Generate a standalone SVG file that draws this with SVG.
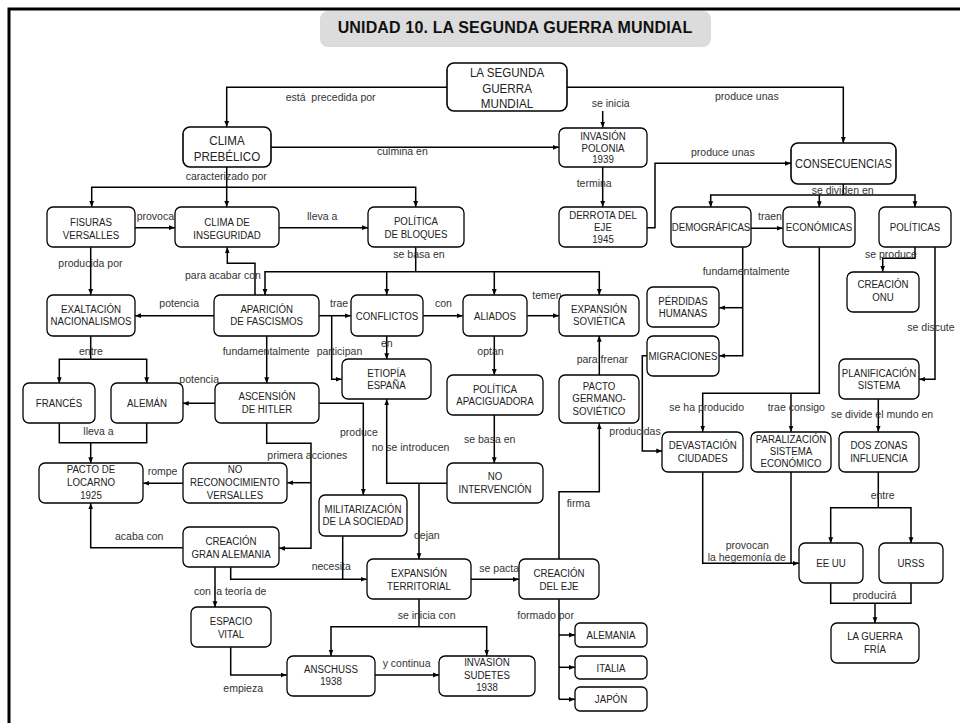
<svg xmlns="http://www.w3.org/2000/svg" width="960" height="723" viewBox="0 0 960 723">
<style>
.bg{fill:#fff}
.n rect{fill:#fff;stroke:#000;stroke-width:1.3}
.n text{font-family:"Liberation Sans",Arial,sans-serif;font-size:11.3px;fill:#222;text-anchor:middle;transform-box:fill-box;transform-origin:center;transform:scaleX(0.86)}
.big text{font-size:12.5px;transform:scaleX(0.93)}
.c path{fill:none;stroke:#000;stroke-width:1.5}
.c path.a{marker-end:url(#ah)}
.l text{font-family:"Liberation Sans",Arial,sans-serif;font-size:10.5px;fill:#333}
.title{font-family:"Liberation Sans",Arial,sans-serif;font-size:16px;font-weight:bold;fill:#111;text-anchor:middle;letter-spacing:0.15px}
</style>
<defs>
<marker id="ah" viewBox="0 0 10 10" refX="10" refY="5" markerWidth="6" markerHeight="6" markerUnits="userSpaceOnUse" orient="auto"><path d="M0,1 L10,5 L0,9z" fill="#000"/></marker>
</defs>
<rect class="bg" x="0" y="0" width="960" height="723"/>
<path d="M9,723 V9 H960" fill="none" stroke="#000" stroke-width="3"/>
<g id="title">
<rect x="320" y="11" width="391" height="36" rx="8" fill="#dcdcdc"/>
<text class="title" x="515" y="33.3">UNIDAD 10. LA SEGUNDA GUERRA MUNDIAL</text>
</g>

<g class="c" id="connectors">
<path class="a" d="M447,87.3 H226.7 V127"/>
<path class="a" d="M567,87.3 H843.3 V143"/>
<path class="a" d="M602.7,111 V127.7"/>
<path class="a" d="M271,147.3 H559"/>
<path class="a" d="M602.7,167 V207"/>
<path class="a" d="M647,227.7 H655 V163.3 H791"/>
<path class="a" d="M226.7,167 V207"/>
<path class="a" d="M226.7,187.3 H91.7 V207"/>
<path class="a" d="M226.7,187.3 H415.7 V207"/>
<path class="a" d="M135,227.7 H175"/>
<path class="a" d="M279,227.7 H368"/>
<path class="a" d="M90.7,247.3 V295"/>
<path d="M415.7,247.3 V271.7"/>
<path class="a" d="M415.7,271.7 H265 V295"/>
<path class="a" d="M415.7,271.7 H599.3 V295"/>
<path class="a" d="M386.7,271.7 V295"/>
<path class="a" d="M494.3,271.7 V295"/>
<path class="a" d="M255,295 V263.3 H227.3 V247.3"/>
<path class="a" d="M214.3,315.7 H135"/>
<path class="a" d="M319.3,315.7 H350.7"/>
<path class="a" d="M331.7,315.7 V379.3 H341.7"/>
<path class="a" d="M386.7,335.7 V359.3"/>
<path class="a" d="M423.3,315.7 H462.7"/>
<path class="a" d="M527.3,315.7 H559"/>
<path class="a" d="M494.3,335.7 V375"/>
<path class="a" d="M494.3,415 V463.3"/>
<path class="a" d="M446.7,483.3 H386.7 V399.3"/>
<path class="a" d="M419,483.3 V559.3"/>
<path class="a" d="M599.3,375 V335.7"/>
<path class="a" d="M559,559.3 V491.7 H599.3 V423.3"/>
<path d="M90.7,335.7 V359.3"/>
<path class="a" d="M90.7,359.3 H59.3 V383.3"/>
<path class="a" d="M90.7,359.3 H146.7 V383.3"/>
<path class="a" d="M266.7,335.7 V383.3"/>
<path class="a" d="M215,403.3 H182.7"/>
<path d="M59.3,423.3 V442.7 H146.7 V423.3"/>
<path class="a" d="M90.7,442.7 V463.3"/>
<path class="a" d="M266.7,423.3 V443.3 H311 V548.3 H279"/>
<path class="a" d="M311,482.7 H287.3"/>
<path class="a" d="M319.3,403.3 H363.3 V495"/>
<path class="a" d="M182.7,483.3 H143.3"/>
<path class="a" d="M182.7,547.7 H90.7 V503.3"/>
<path class="a" d="M230.7,567.3 V579.3 H366.7"/>
<path d="M342.7,535.7 V579.3"/>
<path class="a" d="M215,567.3 V607.3"/>
<path class="a" d="M230.7,647.3 V675 H286.7"/>
<path d="M419,599.3 V626.7"/>
<path class="a" d="M419,626.7 H331 V655.7"/>
<path class="a" d="M419,626.7 H486.7 V655.7"/>
<path class="a" d="M375,675 H439"/>
<path class="a" d="M471,579.3 H519"/>
<path d="M559,599.3 V699.3"/>
<path class="a" d="M559,635 H575"/>
<path class="a" d="M559,667.3 H575"/>
<path class="a" d="M559,699.3 H575"/>
<path d="M843.3,184 V195"/>
<path class="a" d="M843.3,195 H710.7 V207.3"/>
<path class="a" d="M843.3,195 H915 V207.3"/>
<path class="a" d="M819.3,195 V207.3"/>
<path class="a" d="M750.7,228.3 H782.7"/>
<path class="a" d="M742.7,247.3 V355.7 H719.3"/>
<path class="a" d="M742.7,307.7 H719.3"/>
<path class="a" d="M646.7,355.7 H642.3 V451 H662.3"/>
<path class="a" d="M819.3,247.3 V393.3 H702.7 V431.7"/>
<path class="a" d="M791,393.3 V431.7"/>
<path class="a" d="M915,247.3 V258.3 H882.7 V271.7"/>
<path class="a" d="M935,247.3 V379.3 H919.3"/>
<path class="a" d="M878.3,399.3 V431.7"/>
<path d="M878.3,471.7 V507.7"/>
<path class="a" d="M878.3,507.7 H830.7 V543.3"/>
<path class="a" d="M878.3,507.7 H911 V543.3"/>
<path class="a" d="M702.7,471.7 V563.3 H799"/>
<path d="M791,471.7 V563.3"/>
<path d="M830.7,583.3 V603.3 H911 V583.3"/>
<path class="a" d="M875,603.3 V623.3"/>
</g>

<g class="l" id="labels">
<text x="285.7" y="100.7" xml:space="preserve">está  precedida por</text>
<text x="591.7" y="107.3">se inicia</text>
<text x="715" y="100">produce unas</text>
<text x="377" y="155">culmina en</text>
<text x="691" y="156">produce unas</text>
<text x="185.7" y="180">caracterizado por</text>
<text x="576.7" y="187.3">termina</text>
<text x="811.7" y="194">se dividen en</text>
<text x="136.7" y="220">provoca</text>
<text x="307" y="220">lleva a</text>
<text x="758" y="220">traen</text>
<text x="393.3" y="258.3">se basa en</text>
<text x="865" y="258">se produce</text>
<text x="58.3" y="266.7">producida por</text>
<text x="185" y="279">para acabar con</text>
<text x="702.7" y="275">fundamentalmente</text>
<text x="532.3" y="299.3">temen</text>
<text x="159.3" y="306.7">potencia</text>
<text x="330" y="306.7">trae</text>
<text x="435" y="306.7">con</text>
<text x="907.3" y="330.7">se discute</text>
<text x="381" y="347.3">en</text>
<text x="79" y="355">entre</text>
<text x="222.7" y="355">fundamentalmente</text>
<text x="316.7" y="355">participan</text>
<text x="477.3" y="355">optan</text>
<text x="576.7" y="362.7">para frenar</text>
<text x="179.3" y="382.7">potencia</text>
<text x="669.3" y="411">se ha producido</text>
<text x="767.7" y="411">trae consigo</text>
<text x="831" y="418.3">se divide el mundo en</text>
<text x="83.3" y="435">lleva a</text>
<text x="340" y="435.7">produce</text>
<text x="609.3" y="435">producidas</text>
<text x="464" y="442.7">se basa en</text>
<text x="371.7" y="450.7">no se introducen</text>
<text x="267.3" y="459">primera acciones</text>
<text x="147.7" y="475">rompe</text>
<text x="870.7" y="499.3">entre</text>
<text x="566.7" y="506.7">firma</text>
<text x="414" y="539.3">dejan</text>
<text x="115" y="540">acaba con</text>
<text x="725.7" y="549.3">provocan</text>
<text x="707.7" y="561">la hegemonía de</text>
<text x="311.7" y="570">necesita</text>
<text x="479.3" y="571.7">se pacta</text>
<text x="194" y="595">con la teoría de</text>
<text x="852.7" y="599.3">producirá</text>
<text x="397.7" y="619.3">se inicia con</text>
<text x="517.3" y="619.3">formado por</text>
<text x="382.7" y="666.7">y continua</text>
<text x="223.3" y="691.7">empieza</text>
</g>

<g class="n big" id="segunda"><rect x="447" y="63" width="120" height="48" rx="7" style="stroke-width:1.6"/><text x="507" y="77">LA SEGUNDA</text><text x="507" y="93">GUERRA</text><text x="507" y="108.5">MUNDIAL</text></g>
<g class="n big" id="clima"><rect x="183" y="127" width="88" height="40" rx="7" style="stroke-width:1.6"/><text x="227" y="145">CLIMA</text><text x="227" y="160.7">PREBÉLICO</text></g>
<g class="n" id="invasion_polonia"><rect x="559" y="128" width="88" height="39" rx="6"/><text x="603" y="140">INVASIÓN</text><text x="603" y="151.7">POLONIA</text><text x="603" y="163.3">1939</text></g>
<g class="n big" id="consecuencias"><rect x="791" y="143" width="105" height="41" rx="7" style="stroke-width:1.6"/><text x="843.5" y="168" style="transform:scaleX(0.89)">CONSECUENCIAS</text></g>
<g class="n" id="fisuras"><rect x="47" y="207" width="88" height="40" rx="6"/><text x="91" y="226.5">FISURAS</text><text x="91" y="238.7">VERSALLES</text></g>
<g class="n" id="clima_inseguridad"><rect x="175" y="207" width="104" height="40" rx="6"/><text x="227" y="226.5">CLIMA DE</text><text x="227" y="238.7">INSEGURIDAD</text></g>
<g class="n" id="politica_bloques"><rect x="368" y="207" width="96" height="40" rx="6"/><text x="416" y="225.5">POLÍTICA</text><text x="416" y="237.7">DE BLOQUES</text></g>
<g class="n" id="derrota"><rect x="559" y="207" width="88" height="40" rx="6"/><text x="603" y="219">DERROTA DEL</text><text x="603" y="231">EJE</text><text x="603" y="243">1945</text></g>
<g class="n" id="demograficas"><rect x="671" y="207" width="80" height="40" rx="6"/><text x="711" y="231">DEMOGRÁFICAS</text></g>
<g class="n" id="economicas"><rect x="783" y="207" width="72" height="40" rx="6"/><text x="819" y="231">ECONÓMICAS</text></g>
<g class="n" id="politicas"><rect x="879" y="207" width="72" height="40" rx="6"/><text x="915" y="231">POLÍTICAS</text></g>
<g class="n" id="exaltacion"><rect x="47" y="295" width="88" height="41" rx="6"/><text x="91" y="312.7">EXALTACIÓN</text><text x="91" y="325">NACIONALISMOS</text></g>
<g class="n" id="aparicion"><rect x="214" y="295" width="105" height="41" rx="6"/><text x="266.7" y="312.7">APARICIÓN</text><text x="266.7" y="325">DE FASCISMOS</text></g>
<g class="n" id="conflictos"><rect x="351" y="295" width="72" height="41" rx="6"/><text x="387" y="320">CONFLICTOS</text></g>
<g class="n" id="aliados"><rect x="463" y="295" width="64" height="41" rx="6"/><text x="495" y="320">ALIADOS</text></g>
<g class="n" id="expansion_sovietica"><rect x="559" y="295" width="80" height="41" rx="6"/><text x="599" y="312.7">EXPANSIÓN</text><text x="599" y="325">SOVIÉTICA</text></g>
<g class="n" id="perdidas"><rect x="647" y="287" width="72" height="40" rx="6"/><text x="683" y="305">PÉRDIDAS</text><text x="683" y="317.3">HUMANAS</text></g>
<g class="n" id="onu"><rect x="847" y="272" width="72" height="40" rx="6"/><text x="883" y="288.3">CREACIÓN</text><text x="883" y="301">ONU</text></g>
<g class="n" id="migraciones"><rect x="647" y="336" width="72" height="40" rx="6"/><text x="683" y="360">MIGRACIONES</text></g>
<g class="n" id="etiopia"><rect x="342" y="359" width="89" height="40" rx="6"/><text x="386.5" y="376.7">ETIOPÍA</text><text x="386.5" y="389.3">ESPAÑA</text></g>
<g class="n" id="planificacion"><rect x="839" y="359" width="80" height="40" rx="6"/><text x="879" y="376.7">PLANIFICACIÓN</text><text x="879" y="389.3">SISTEMA</text></g>
<g class="n" id="frances"><rect x="23" y="383" width="72" height="40" rx="6"/><text x="59" y="406.7">FRANCÉS</text></g>
<g class="n" id="aleman"><rect x="111" y="383" width="72" height="40" rx="6"/><text x="147" y="406.7">ALEMÁN</text></g>
<g class="n" id="ascension"><rect x="215" y="383" width="104" height="40" rx="6"/><text x="267" y="400">ASCENSIÓN</text><text x="267" y="413.3">DE HITLER</text></g>
<g class="n" id="apaciguadora"><rect x="447" y="375" width="96" height="40" rx="6"/><text x="495" y="392.7">POLÍTICA</text><text x="495" y="405">APACIGUADORA</text></g>
<g class="n" id="pacto_germano"><rect x="559" y="375" width="80" height="48" rx="6"/><text x="599" y="390">PACTO</text><text x="599" y="402.5">GERMANO-</text><text x="599" y="415">SOVIÉTICO</text></g>
<g class="n" id="devastacion"><rect x="662" y="432" width="81" height="40" rx="6"/><text x="702.7" y="449.3">DEVASTACIÓN</text><text x="702.7" y="461.7">CIUDADES</text></g>
<g class="n" id="paralizacion"><rect x="751" y="432" width="80" height="40" rx="6"/><text x="791" y="442.7">PARALIZACIÓN</text><text x="791" y="455">SISTEMA</text><text x="791" y="467.5">ECONÓMICO</text></g>
<g class="n" id="dos_zonas"><rect x="839" y="432" width="80" height="40" rx="6"/><text x="879" y="449.3">DOS ZONAS</text><text x="879" y="461.7">INFLUENCIA</text></g>
<g class="n" id="locarno"><rect x="39" y="463" width="104" height="40" rx="6"/><text x="91" y="473.3">PACTO DE</text><text x="91" y="486.3">LOCARNO</text><text x="91" y="499.3">1925</text></g>
<g class="n" id="no_reconocimiento"><rect x="183" y="463" width="104" height="40" rx="6"/><text x="235" y="473.3">NO</text><text x="235" y="486.3">RECONOCIMIENTO</text><text x="235" y="499.3">VERSALLES</text></g>
<g class="n" id="no_intervencion"><rect x="447" y="463" width="96" height="40" rx="6"/><text x="495" y="480">NO</text><text x="495" y="493">INTERVENCIÓN</text></g>
<g class="n" id="militarizacion"><rect x="319" y="495" width="88" height="41" rx="6"/><text x="363" y="512.7">MILITARIZACIÓN</text><text x="363" y="525">DE LA SOCIEDAD</text></g>
<g class="n" id="creacion_gran_alemania"><rect x="183" y="527" width="96" height="40" rx="6"/><text x="231" y="545">CREACIÓN</text><text x="231" y="558">GRAN ALEMANIA</text></g>
<g class="n" id="eeuu"><rect x="799" y="543" width="64" height="40" rx="6"/><text x="831" y="567.3">EE UU</text></g>
<g class="n" id="urss"><rect x="879" y="543" width="64" height="40" rx="6"/><text x="911" y="567.3">URSS</text></g>
<g class="n" id="expansion_territorial"><rect x="367" y="559" width="104" height="40" rx="6"/><text x="419" y="576.7">EXPANSIÓN</text><text x="419" y="590">TERRITORIAL</text></g>
<g class="n" id="creacion_eje"><rect x="519" y="559" width="80" height="40" rx="6"/><text x="559" y="576.7">CREACIÓN</text><text x="559" y="590">DEL EJE</text></g>
<g class="n" id="espacio_vital"><rect x="191" y="607" width="80" height="40" rx="6"/><text x="231" y="625">ESPACIO</text><text x="231" y="638.3">VITAL</text></g>
<g class="n" id="guerra_fria"><rect x="831" y="623" width="88" height="40" rx="6"/><text x="875" y="640">LA GUERRA</text><text x="875" y="653.3">FRÍA</text></g>
<g class="n" id="alemania"><rect x="575" y="623" width="72" height="24" rx="5"/><text x="611" y="639.3">ALEMANIA</text></g>
<g class="n" id="italia"><rect x="575" y="656" width="72" height="23" rx="5"/><text x="611" y="671.7">ITALIA</text></g>
<g class="n" id="japon"><rect x="575" y="687" width="72" height="24" rx="5"/><text x="611" y="703.3">JAPÓN</text></g>
<g class="n" id="anschuss"><rect x="287" y="656" width="88" height="40" rx="6"/><text x="331" y="673">ANSCHUSS</text><text x="331" y="685.3">1938</text></g>
<g class="n" id="sudetes"><rect x="439" y="656" width="96" height="40" rx="6"/><text x="487" y="666">INVASIÓN</text><text x="487" y="679.3">SUDETES</text><text x="487" y="691.5">1938</text></g>
</svg>
